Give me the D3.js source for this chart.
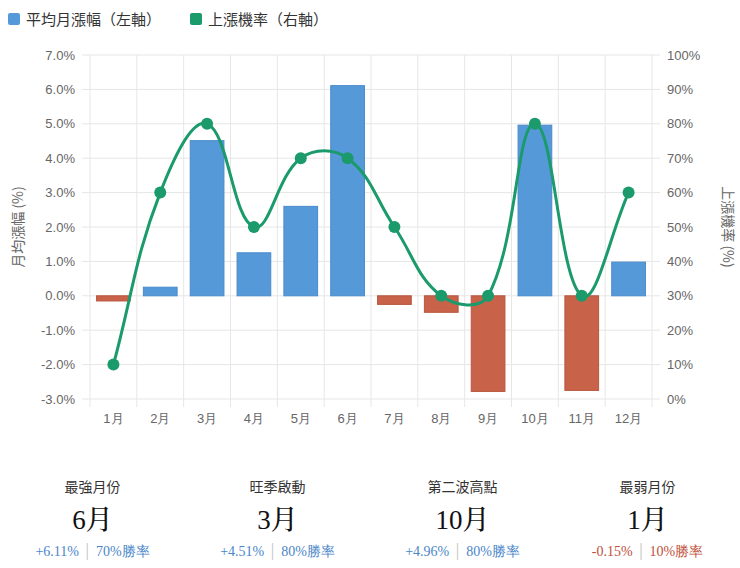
<!DOCTYPE html>
<html>
<head>
<meta charset="utf-8">
<script src="https://cdn.jsdelivr.net/npm/d3@7"></script>
<style>
  body { margin: 0; background: #fff; }
  svg { display: block; font-family: "Noto Sans CJK TC", "Noto Sans", sans-serif; }
  .grid line { stroke: #e6e6e6; stroke-width: 1; }
  .tick text { fill: #666; font-size: 13px; }
</style>
</head>
<body>
<svg id="chart"></svg>
<script>
// data
var months = ["1月","2月","3月","4月","5月","6月","7月","8月","9月","10月","11月","12月"];
var avgReturn = [-0.15, 0.25, 4.51, 1.25, 2.6, 6.11, -0.25, -0.48, -2.78, 4.96, -2.75, 0.98];
var winRate = [10, 60, 80, 50, 70, 70, 50, 30, 30, 80, 30, 60];
var leftTicks = [-3, -2, -1, 0, 1, 2, 3, 4, 5, 6, 7];
var rightTicks = [0, 10, 20, 30, 40, 50, 60, 70, 80, 90, 100];
var seriesNames = ["平均月漲幅（左軸）", "上漲機率（右軸）"];
var cards = [
  {title: "最強月份", month: "6月", ret: "+6.11%", rate: "70%勝率", up: true},
  {title: "旺季啟動", month: "3月", ret: "+4.51%", rate: "80%勝率", up: true},
  {title: "第二波高點", month: "10月", ret: "+4.96%", rate: "80%勝率", up: true},
  {title: "最弱月份", month: "1月", ret: "-0.15%", rate: "10%勝率", up: false}
];

// spline weighted by distance between points (tension 0.4)
function SplineCurve(context) { this._context = context; }
SplineCurve.prototype = {
  areaStart: function(){}, areaEnd: function(){},
  lineStart: function(){ this._pts = []; },
  point: function(x, y){ this._pts.push([+x, +y]); },
  lineEnd: function(){
    var p = this._pts, c = this._context, t = 0.4, n = p.length;
    if (!n) return;
    var cps = p.map(function(m, i){
      var a = p[Math.max(0, i - 1)], b = p[Math.min(n - 1, i + 1)];
      var d01 = Math.hypot(m[0] - a[0], m[1] - a[1]),
          d12 = Math.hypot(b[0] - m[0], b[1] - m[1]);
      var s01 = d01 / (d01 + d12 || 1), s12 = d12 / (d01 + d12 || 1);
      var fa = t * s01, fb = t * s12;
      return {
        prev: [m[0] - fa * (b[0] - a[0]), m[1] - fa * (b[1] - a[1])],
        next: [m[0] + fb * (b[0] - a[0]), m[1] + fb * (b[1] - a[1])]
      };
    });
    c.moveTo(p[0][0], p[0][1]);
    for (var i = 1; i < n; i++) {
      c.bezierCurveTo(cps[i-1].next[0], cps[i-1].next[1], cps[i].prev[0], cps[i].prev[1], p[i][0], p[i][1]);
    }
  }
};
function curveSpline(context) { return new SplineCurve(context); }

(function(){
  var W = 740, H = 568;
  var margin = {top: 55, right: 88, bottom: 169, left: 90};
  var width = W - margin.left - margin.right,
      height = H - margin.top - margin.bottom;

  var blue = "#5599d8", blueEdge = "#4a8bcb",
      red = "#c8634a", redEdge = "#b9563e",
      green = "#1b9a6b";

  var svg = d3.select("#chart").attr("width", W).attr("height", H);

  // legend
  var legend = svg.append("g").attr("transform", "translate(8,13)");
  var lg = legend.selectAll("g").data(seriesNames).enter().append("g")
    .attr("transform", function(d, i){ return "translate(" + (i * 182) + ",0)"; });
  lg.append("rect").attr("width", 12).attr("height", 12).attr("rx", 2)
    .attr("fill", function(d, i){ return i ? green : blue; });
  lg.append("text").attr("x", 18).attr("y", 11.5)
    .style("font-size", "15px").style("fill", "#333")
    .text(function(d){ return d; });

  var g = svg.append("g")
    .attr("transform", "translate(" + margin.left + "," + margin.top + ")");

  var x = d3.scaleBand().domain(months).range([0, width]).paddingInner(0).paddingOuter(0);
  var yL = d3.scaleLinear().domain([-3, 7]).range([height, 0]);
  var yR = d3.scaleLinear().domain([0, 100]).range([height, 0]);

  // horizontal grid
  g.append("g").attr("class", "grid")
    .selectAll("line").data(leftTicks).enter().append("line")
    .attr("x1", -8).attr("x2", width + 8)
    .attr("y1", function(d){ return yL(d); })
    .attr("y2", function(d){ return yL(d); });

  // vertical grid at category edges
  var edges = months.map(function(m){ return x(m); }).concat([width]);
  g.append("g").attr("class", "grid")
    .selectAll("line").data(edges).enter().append("line")
    .attr("x1", function(d){ return d; }).attr("x2", function(d){ return d; })
    .attr("y1", 0).attr("y2", height + 8);

  // axes
  var axL = g.append("g")
    .attr("transform", "translate(-15,0)")
    .call(d3.axisLeft(yL).tickValues(leftTicks).tickSize(0).tickPadding(0)
      .tickFormat(function(d){ return d.toFixed(1) + "%"; }));
  axL.select(".domain").remove();

  var axR = g.append("g")
    .attr("transform", "translate(" + (width + 15) + ",0)")
    .call(d3.axisRight(yR).tickValues(rightTicks).tickSize(0).tickPadding(0)
      .tickFormat(function(d){ return d + "%"; }));
  axR.select(".domain").remove();

  var axB = g.append("g")
    .attr("transform", "translate(0," + (height + 15) + ")")
    .call(d3.axisBottom(x).tickSize(0).tickPadding(0));
  axB.select(".domain").remove();
  axB.selectAll("text").attr("dy", "0.71em");

  // axis titles
  g.append("text")
    .attr("transform", "translate(" + (-72) + "," + (height / 2) + ") rotate(-90)")
    .attr("text-anchor", "middle").attr("dy", "0.35em")
    .style("font-size", "14px").style("fill", "#666")
    .text("月均漲幅 (%)");
  g.append("text")
    .attr("transform", "translate(" + (width + 76) + "," + (height / 2) + ") rotate(90)")
    .attr("text-anchor", "middle").attr("dy", "0.35em")
    .style("font-size", "14px").style("fill", "#666")
    .text("上漲機率 (%)");

  // bars
  var bw = x.bandwidth() * 0.72;
  g.selectAll("rect.bar").data(avgReturn).enter().append("rect")
    .attr("class", "bar")
    .attr("x", function(d, i){ return x(months[i]) + (x.bandwidth() - bw) / 2; })
    .attr("width", bw)
    .attr("y", function(d){ return yL(Math.max(0, d)); })
    .attr("height", function(d){ return Math.abs(yL(d) - yL(0)); })
    .attr("fill", function(d){ return d >= 0 ? blue : red; })
    .attr("stroke", function(d){ return d >= 0 ? blueEdge : redEdge; })
    .attr("stroke-width", 1);

  // win-rate line
  var line = d3.line()
    .curve(curveSpline)
    .x(function(d, i){ return x(months[i]) + x.bandwidth() / 2; })
    .y(function(d){ return yR(d); });

  g.append("path").datum(winRate)
    .attr("d", line)
    .attr("fill", "none")
    .attr("stroke", green)
    .attr("stroke-width", 3);

  g.selectAll("circle").data(winRate).enter().append("circle")
    .attr("cx", function(d, i){ return x(months[i]) + x.bandwidth() / 2; })
    .attr("cy", function(d){ return yR(d); })
    .attr("r", 6)
    .attr("fill", green);

  // summary cards
  var cw = W / cards.length;
  var cg = svg.selectAll("g.card").data(cards).enter().append("g")
    .attr("class", "card")
    .attr("transform", function(d, i){ return "translate(" + (cw * i + cw / 2) + ",0)"; })
    .attr("text-anchor", "middle");
  cg.append("text").attr("y", 492)
    .style("font-size", "14px").style("fill", "#333")
    .text(function(d){ return d.title; });
  cg.append("text").attr("y", 529)
    .style("font-family", "'Liberation Serif', 'Noto Serif CJK TC', serif")
    .style("font-size", "27px").style("font-weight", "500").style("fill", "#111")
    .text(function(d){ return d.month; });
  var sub = cg.append("text").attr("y", 556)
    .style("font-family", "'Liberation Serif', serif")
    .style("font-size", "14px")
    .style("fill", function(d){ return d.up ? "#4a86c8" : "#c0503a"; });
  sub.append("tspan").text(function(d){ return d.ret; });
  sub.append("tspan").style("fill", "#c8c8c8").text(" │ ");
  sub.append("tspan").text(function(d){ return d.rate; });
})();
</script>
</body>
</html>
